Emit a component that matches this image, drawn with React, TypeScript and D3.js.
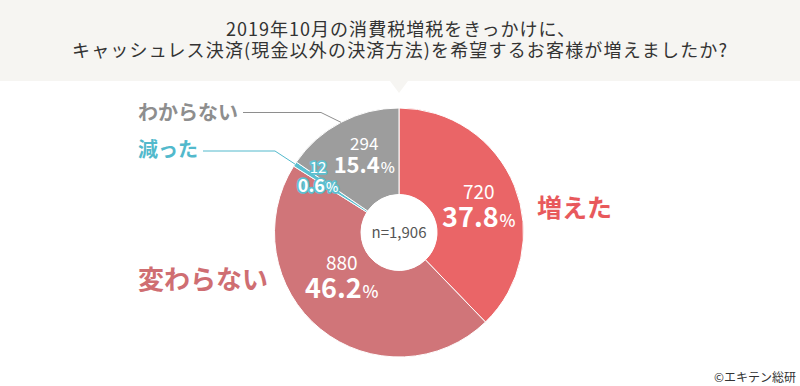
import React from "react";
import * as d3 from "d3";

const W = 800;
const H = 386;

const titleLines = [
  "2019年10月の消費税増税をきっかけに、",
  "キャッシュレス決済(現金以外の決済方法)を希望するお客様が増えましたか?",
];
const categories = ["増えた", "変わらない", "減った", "わからない"];
const counts = [720, 880, 12, 294];
const percents = ["37.8", "46.2", "0.6", "15.4"];
const colors = ["#ea6567", "#d07579", "#5cbfd0", "#9d9d9d"];
const labelColors = ["#e8595c", "#cf6e72", "#52b9cc", "#8e8e8e"];
const totalLabel = "n=1,906";
const credit = "©エキテン総研";

const FONT = "'Noto Sans CJK JP', 'Noto Sans', sans-serif";

// layout (not data)
const cx = 399;
const cy = 232.5;
const R = 124.5;
const r0 = 38;
const titleLayout = [
  { x: 226, y: 36, len: 349 },
  { x: 72, y: 57, len: 655 },
];
// inner label placement: angle offset (deg) from slice mid-angle, radius, font sizes
const inner = [
  { dA: 18, rad: 80, cnt: 19, pct: 27, pctU: 17, outline: false },
  { dA: 2, rad: 87, cnt: 19, pct: 27, pctU: 17, outline: false },
  { dA: -6.7, rad: 90.6, cnt: 15, pct: 18, pctU: 13, outline: true },
  { dA: -2.5, rad: 69, cnt: 17, pct: 22, pctU: 15, outline: false },
];
// outside labels
const outer = [
  { x: 537, y: 217, size: 25, anchor: "start", leader: false },
  { x: 138, y: 289, size: 26, anchor: "start", leader: false },
  { x: 138, y: 157, size: 20, anchor: "start", leader: true, ly: 151, gap: 5 },
  { x: 138, y: 120, size: 20, anchor: "start", leader: true, ly: 112.5, gap: 5 },
];

export default function App() {
  const pie = d3
    .pie<number>()
    .sort(null)
    .value((d) => d)
    .startAngle(0)
    .endAngle(2 * Math.PI);
  const arcs = pie(counts);
  const arc = d3.arc<d3.PieArcDatum<number>>().innerRadius(r0).outerRadius(R);

  const polar = (ang: number, rad: number): [number, number] => [
    cx + Math.sin(ang) * rad,
    cy - Math.cos(ang) * rad,
  ];

  const textW = (s: string, size: number) => s.length * size;

  return (
    <svg
      width={W}
      height={H}
      style={{ position: "absolute", left: 0, top: 0, background: "#fff" }}
      fontFamily={FONT}
    >
      <rect x={0} y={0} width={W} height={81} fill="#f6f5f2" />
      <path d={`M390,81 L408,81 L399,93 Z`} fill="#f6f5f2" />
      {titleLines.map((t, i) => (
        <text
          key={i}
          x={titleLayout[i].x}
          y={titleLayout[i].y}
          textLength={titleLayout[i].len}
          lengthAdjust="spacing"
          fontSize={18}
          fill="#333"
        >
          {t}
        </text>
      ))}

      <g transform={`translate(${cx},${cy})`}>
        {arcs.map((a, i) => (
          <path
            key={i}
            d={arc(a) || ""}
            fill={colors[i]}
            stroke="#fff"
            strokeWidth={1}
          />
        ))}
        <circle r={r0} fill="#fff" />
      </g>

      {/* leader lines */}
      {arcs.map((a, i) => {
        const o = outer[i];
        if (!o.leader) return null;
        const mid = (a.startAngle + a.endAngle) / 2;
        const [px, py] = polar(mid, R);
        const ex = px - 20;
        const sx = o.x + textW(categories[i], o.size) + o.gap;
        return (
          <polyline
            key={"l" + i}
            points={`${sx},${o.ly} ${ex},${o.ly} ${px},${py}`}
            fill="none"
            stroke={labelColors[i]}
            strokeWidth={1}
          />
        );
      })}

      {/* inner labels */}
      {arcs.map((a, i) => {
        const L = inner[i];
        const mid = (a.startAngle + a.endAngle) / 2 + (L.dA * Math.PI) / 180;
        const [x, y] = polar(mid, L.rad);
        const common = L.outline
          ? {
              stroke: colors[i],
              strokeWidth: 3.5,
              paintOrder: "stroke",
              strokeLinejoin: "round" as const,
            }
          : {};
        return (
          <g key={"t" + i}>
            <text
              x={x}
              y={y - L.pct - 1}
              textAnchor="middle"
              fontSize={L.cnt}
              fill="#fff"
              {...common}
            >
              {counts[i]}
            </text>
            <text
              x={x}
              y={y}
              textAnchor="middle"
              fill="#fff"
              fontWeight={700}
              fontSize={L.pct}
              {...common}
            >
              {percents[i]}
              <tspan fontSize={L.pctU} fontWeight={500} dx={1}>
                %
              </tspan>
            </text>
          </g>
        );
      })}

      <text
        x={cx}
        y={cy + 5.5}
        textAnchor="middle"
        fontSize={15}
        fill="#555"
      >
        {totalLabel}
      </text>

      {/* outside labels */}
      {categories.map((c, i) => (
        <text
          key={"o" + i}
          x={outer[i].x}
          y={outer[i].y}
          textAnchor={outer[i].anchor as any}
          fontSize={outer[i].size}
          fontWeight={700}
          fill={labelColors[i]}
        >
          {c}
        </text>
      ))}

      <text x={796} y={382} textAnchor="end" fontSize={12} fill="#333">
        {credit}
      </text>
    </svg>
  );
}
